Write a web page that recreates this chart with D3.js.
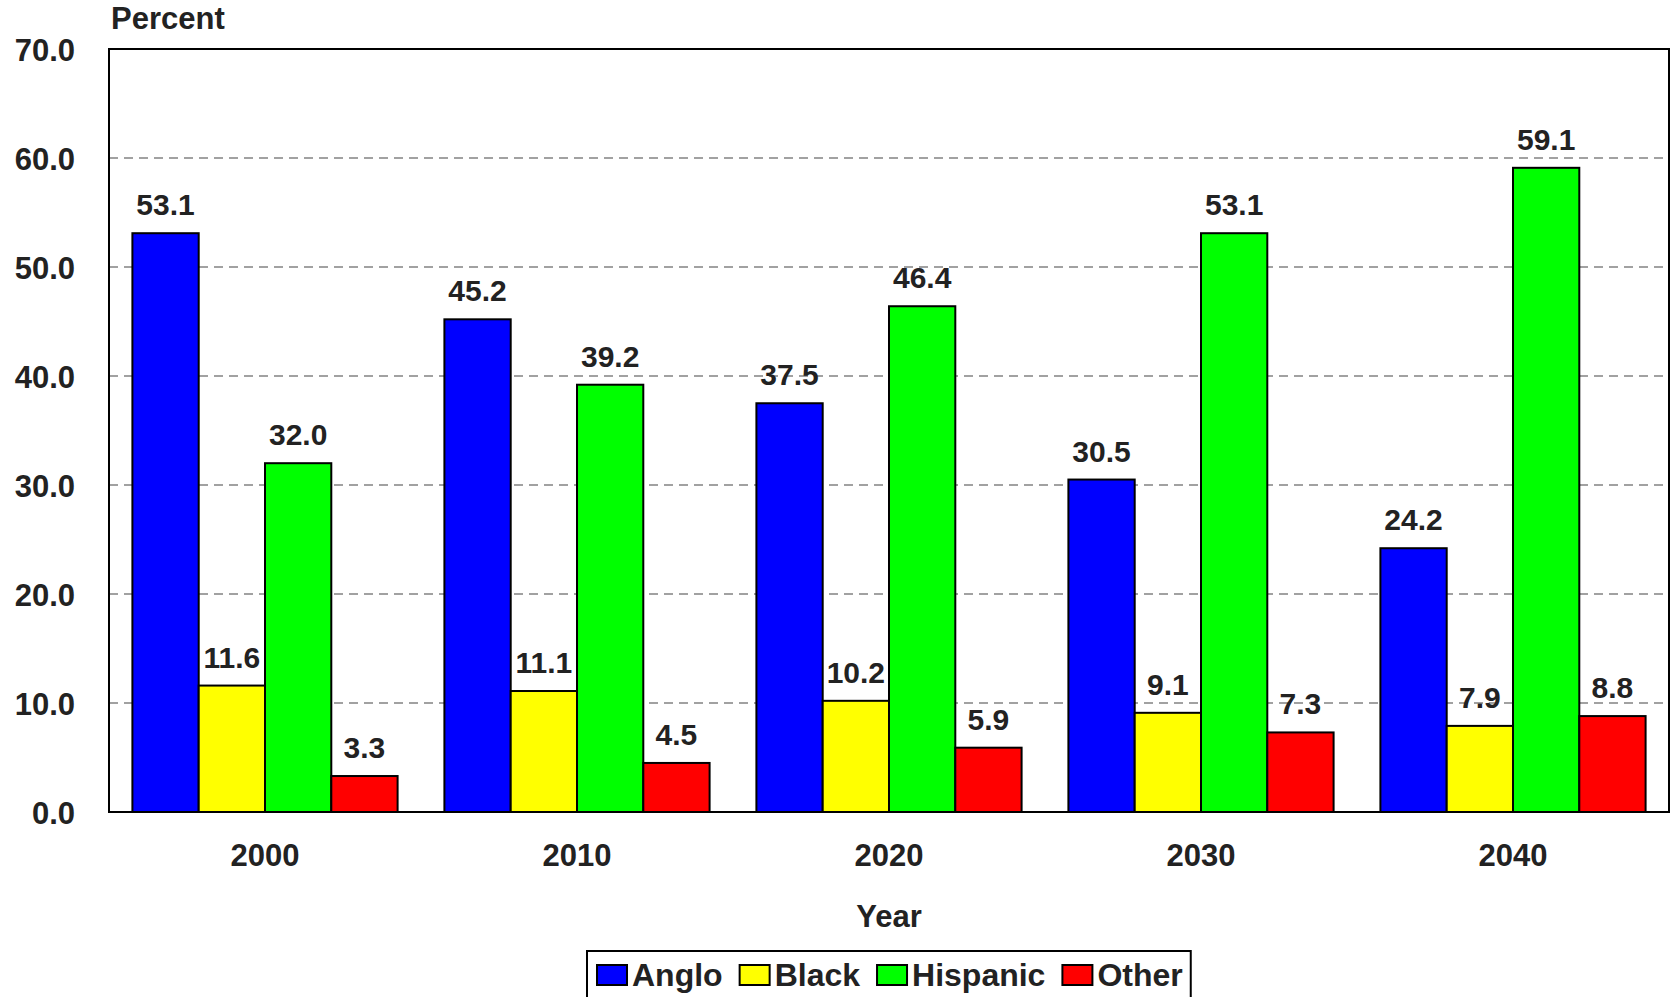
<!DOCTYPE html>
<html>
<head>
<meta charset="utf-8">
<script src="https://cdn.jsdelivr.net/npm/d3@7/dist/d3.min.js"></script>
<style>
  html, body { margin: 0; padding: 0; background: #ffffff; }
  svg { display: block; }
  text { font-family: "Liberation Sans", Arial, sans-serif; font-weight: bold; fill: #222222; }
</style>
</head>
<body>
<svg id="chart" width="1677" height="997"></svg>
<script>
// Population share by race/ethnicity, percent
const years = ["2000", "2010", "2020", "2030", "2040"];
const groups = ["Anglo", "Black", "Hispanic", "Other"];
const anglo = [53.1, 45.2, 37.5, 30.5, 24.2];
const black = [11.6, 11.1, 10.2, 9.1, 7.9];
const hispanic = [32.0, 39.2, 46.4, 53.1, 59.1];
const other = [3.3, 4.5, 5.9, 7.3, 8.8];
const groupColors = ["#0000ff", "#ffff00", "#00ff00", "#ff0000"];
const yTicks = [0, 10, 20, 30, 40, 50, 60, 70];

const seriesValues = [anglo, black, hispanic, other];
const rows = years.map((yr, i) => ({
  year: yr,
  values: groups.map((g, j) => ({ group: g, value: seriesValues[j][i] }))
}));

const svg = d3.select("#chart");
const plot = { left: 109, right: 1669, top: 49, bottom: 812 };

const x0 = d3.scaleBand().domain(years).range([plot.left, plot.right])
  .paddingInner(0.15).paddingOuter(0.075);
const x1 = d3.scaleBand().domain(groups).range([0, x0.bandwidth()]);
const y = d3.scaleLinear().domain([0, 70]).range([plot.bottom, plot.top]);
const color = d3.scaleOrdinal().domain(groups).range(groupColors);

// dashed gridlines
svg.append("g")
  .selectAll("line")
  .data(yTicks.filter(t => t > 0 && t < 70))
  .join("line")
  .attr("x1", plot.left).attr("x2", plot.right)
  .attr("y1", d => y(d)).attr("y2", d => y(d))
  .attr("stroke", "#444").attr("stroke-width", 1.2)
  .attr("stroke-dasharray", "9,6");

// y axis tick labels
const yAxis = d3.axisLeft(y).tickValues(yTicks).tickFormat(d3.format(".1f")).tickSize(0).tickPadding(34);
const yg = svg.append("g").attr("transform", `translate(${plot.left},0)`).call(yAxis);
yg.select(".domain").remove();
yg.selectAll("text").style("font-size", "31px").attr("dy", "0.36em")
  .style("font-family", "'Liberation Sans', Arial, sans-serif").style("font-weight", "bold").attr("fill", "#222");

// x axis labels
const xAxis = d3.axisBottom(x0).tickSize(0).tickPadding(32);
const xg = svg.append("g").attr("transform", `translate(0,${plot.bottom})`).call(xAxis);
xg.select(".domain").remove();
xg.selectAll("text").style("font-size", "31px")
  .style("font-family", "'Liberation Sans', Arial, sans-serif").style("font-weight", "bold").attr("fill", "#222");

// bars
const gYear = svg.append("g").selectAll("g").data(rows).join("g")
  .attr("transform", d => `translate(${x0(d.year)},0)`);

gYear.selectAll("rect").data(d => d.values).join("rect")
  .attr("x", d => x1(d.group))
  .attr("y", d => y(d.value))
  .attr("width", x1.bandwidth())
  .attr("height", d => y(0) - y(d.value))
  .attr("fill", d => color(d.group))
  .attr("stroke", "#000").attr("stroke-width", 2);

// value labels
gYear.selectAll("text.val").data(d => d.values).join("text")
  .attr("class", "val")
  .attr("x", d => x1(d.group) + x1.bandwidth() / 2)
  .attr("y", d => y(d.value) - 18)
  .attr("text-anchor", "middle")
  .style("font-size", "30px")
  .text(d => d.value.toFixed(1));

// plot frame
svg.append("rect")
  .attr("x", plot.left).attr("y", plot.top)
  .attr("width", plot.right - plot.left).attr("height", plot.bottom - plot.top)
  .attr("fill", "none").attr("stroke", "#000").attr("stroke-width", 2);

// axis titles
svg.append("text").attr("x", 111).attr("y", 29).style("font-size", "31px").text("Percent");
svg.append("text").attr("x", (plot.left + plot.right) / 2).attr("y", 927)
  .attr("text-anchor", "middle").style("font-size", "31px").text("Year");

// legend
const legend = svg.append("g");
const legendBox = legend.append("rect")
  .attr("x", 587).attr("y", 951).attr("height", 70)
  .attr("fill", "#fff").attr("stroke", "#000").attr("stroke-width", 2);
let lx = 597;
groups.forEach((g, i) => {
  legend.append("rect")
    .attr("x", lx).attr("y", 965).attr("width", 30).attr("height", 20)
    .attr("fill", color(g)).attr("stroke", "#000").attr("stroke-width", 2);
  const t = legend.append("text")
    .attr("x", lx + 35).attr("y", 986)
    .style("font-size", "32px").text(g);
  const w = t.node().getComputedTextLength();
  lx = lx + 35 + w + (i < groups.length - 1 ? 17 : 8);
});
legendBox.attr("width", lx - 587);
</script>
</body>
</html>
